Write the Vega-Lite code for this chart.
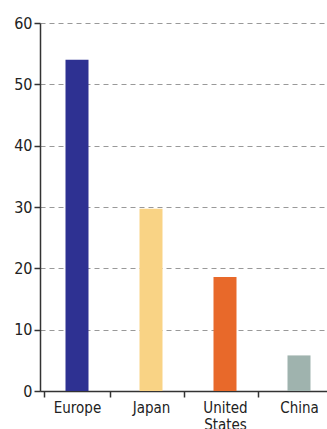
{
  "$schema": "https://vega.github.io/schema/vega-lite/v6.json",
  "width": 296,
  "height": 368,
  "autosize": {"type": "none"},
  "padding": {"left": 40, "top": 23, "right": 0, "bottom": 38},
  "background": "white",
  "config": {
    "view": {"stroke": null},
    "font": "'DejaVu Sans Condensed', Roboto, sans-serif"
  },
  "data": {
    "values": [
      {"region": "Europe", "value": 54},
      {"region": "Japan", "value": 29.7},
      {"region": "United States", "value": 18.6},
      {"region": "China", "value": 5.8}
    ]
  },
  "mark": {"type": "bar", "size": 23},
  "encoding": {
    "x": {
      "field": "region",
      "type": "nominal",
      "sort": null,
      "title": null,
      "axis": {
        "labelAngle": 0,
        "labelFontSize": 15,
        "labelColor": "#222",
        "labelPadding": 3,
        "labelExpr": "split(datum.label, ' ')",
        "labelLineHeight": 17,
        "tickBand": "extent",
        "tickSize": 6,
        "tickColor": "#333",
        "domainColor": "#333",
        "domainWidth": 1.5,
        "tickWidth": 1.5
      }
    },
    "y": {
      "field": "value",
      "type": "quantitative",
      "title": null,
      "scale": {"domain": [0, 60], "nice": false},
      "axis": {
        "values": [0, 10, 20, 30, 40, 50, 60],
        "labelFontSize": 16,
        "labelColor": "#222",
        "labelPadding": 2,
        "tickSize": 6,
        "tickColor": "#333",
        "domainColor": "#333",
        "domainWidth": 1.5,
        "tickWidth": 1.5,
        "grid": true,
        "gridDash": [5, 4],
        "gridColor": "#999",
        "gridWidth": 1
      }
    },
    "color": {
      "field": "region",
      "type": "nominal",
      "legend": null,
      "scale": {
        "domain": ["Europe", "Japan", "United States", "China"],
        "range": ["#2e3192", "#f9d385", "#e8692a", "#9fb3ae"]
      }
    }
  }
}
